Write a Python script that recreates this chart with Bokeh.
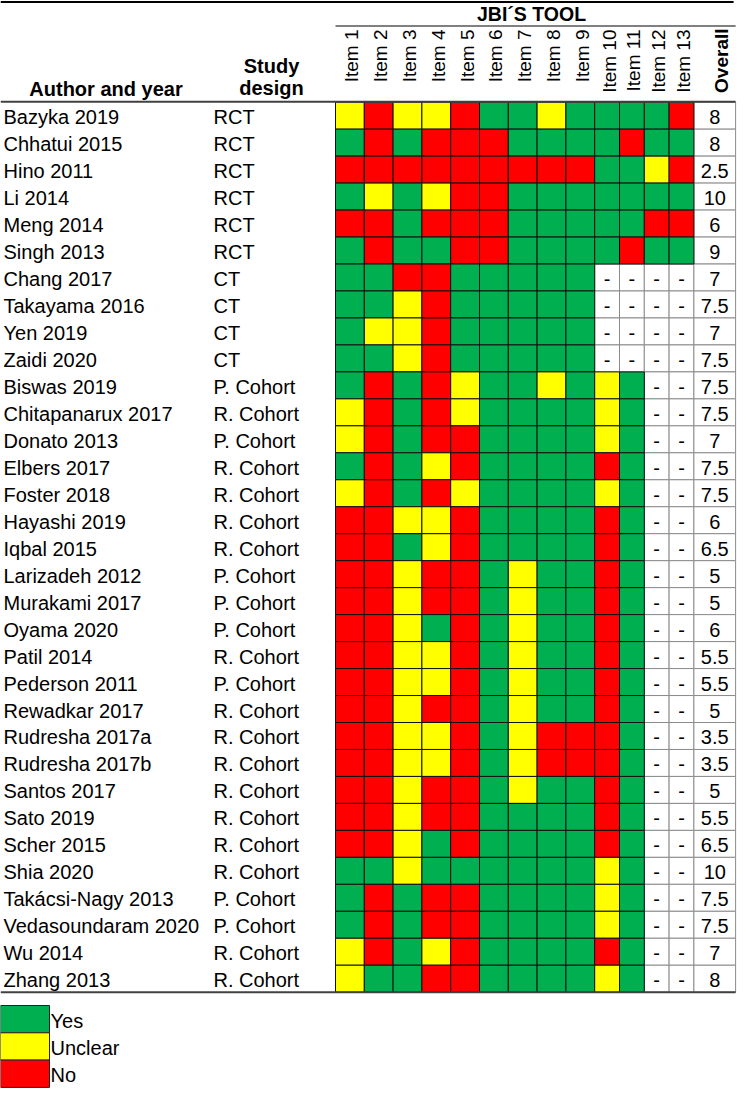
import math
from bokeh.plotting import figure
from bokeh.models import Range1d, ColumnDataSource
from bokeh.core.properties import value
from bokeh.embed import file_html
from bokeh.resources import INLINE

# ---------------- data ----------------
authors = ["Bazyka 2019", "Chhatui 2015", "Hino 2011", "Li 2014", "Meng 2014", "Singh 2013",
           "Chang 2017", "Takayama 2016", "Yen 2019", "Zaidi 2020", "Biswas 2019",
           "Chitapanarux 2017", "Donato 2013", "Elbers 2017", "Foster 2018", "Hayashi 2019",
           "Iqbal 2015", "Larizadeh 2012", "Murakami 2017", "Oyama 2020", "Patil 2014",
           "Pederson 2011", "Rewadkar 2017", "Rudresha 2017a", "Rudresha 2017b", "Santos 2017",
           "Sato 2019", "Scher 2015", "Shia 2020", "Takácsi-Nagy 2013", "Vedasoundaram 2020",
           "Wu 2014", "Zhang 2013"]
designs = ["RCT", "RCT", "RCT", "RCT", "RCT", "RCT",
           "CT", "CT", "CT", "CT",
           "P. Cohort", "R. Cohort", "P. Cohort", "R. Cohort", "R. Cohort", "R. Cohort",
           "R. Cohort", "P. Cohort", "P. Cohort", "P. Cohort", "R. Cohort", "P. Cohort",
           "R. Cohort", "R. Cohort", "R. Cohort", "R. Cohort", "R. Cohort", "R. Cohort",
           "R. Cohort", "P. Cohort", "P. Cohort", "R. Cohort", "R. Cohort"]
# G = Yes, Y = Unclear, R = No, - = not applicable ; one string per study, items 1..13
ratings = ["YRYYRGGYGGGGR",
           "GRGRRRGGGGRGG",
           "RRRRRRRRRGGYR",
           "GYGYRRGGGGGGG",
           "RRGRRRGGGGGRR",
           "GRGGRRGGGGRGG",
           "GGRRGGGGG----",
           "GGYRGGGGG----",
           "GYYRGGGGG----",
           "GGYRGGGGG----",
           "GRGRYGGYGYG--",
           "YRGRYGGGGYG--",
           "YRGRRGGGGYG--",
           "GRGYRGGGGRG--",
           "YRGRYGGGGYG--",
           "RRYYRGGGGRG--",
           "RRGYRGGGGRG--",
           "RRYRRGYGGRG--",
           "RRYRRGYGGRG--",
           "RRYGRGYGGRG--",
           "RRYYRGYGGRG--",
           "RRYYRGYGGRG--",
           "RRYRRGYGGRG--",
           "RRYYRGYRRRG--",
           "RRYYRGYRRRG--",
           "RRYRRGYGGRG--",
           "RRYRRGGGGRG--",
           "RRYGRGGGGRG--",
           "GGYGGGGGGYG--",
           "GRGRRGGGGYG--",
           "GRGRRGGGGYG--",
           "YRGYRGGGGRG--",
           "YGGRRGGGGYG--"]
overall = [8, 8, 2.5, 10, 6, 9, 7, 7.5, 7, 7.5, 7.5, 7.5, 7, 7.5, 7.5, 6, 6.5, 5, 5, 6,
           5.5, 5.5, 5, 3.5, 3.5, 5, 5.5, 6.5, 10, 7.5, 7.5, 7, 8]
items = ["Item 1", "Item 2", "Item 3", "Item 4", "Item 5", "Item 6", "Item 7", "Item 8",
         "Item 9", "Item 10", "Item 11", "Item 12", "Item 13"]
legend_labels = ["Yes", "Unclear", "No"]
legend_codes = ["G", "Y", "R"]

# ---------------- styles / layout ----------------
COLORS = {"G": "#00B050", "Y": "#FFFF00", "R": "#FF0000"}
FONT = value("Liberation Sans")
W, H = 742, 1092
X0 = 335.0
col_w = [28.8] * 9 + [24.8] * 4 + [41.7]
edges = [X0]
for w in col_w:
    edges.append(edges[-1] + w)
ROW_TOP = 101.7
ROW_H = (991.7 - ROW_TOP) / len(authors)
GRID_BOTTOM = ROW_TOP + ROW_H * len(authors)
RIGHT = edges[-1]

p = figure(width=W, height=H, output_backend="svg", toolbar_location=None,
           x_range=Range1d(0, W), y_range=Range1d(H, 0), min_border=0,
           tools="", background_fill_color="white", border_fill_color="white")
p.axis.visible = False
p.grid.visible = False
p.outline_line_color = None

# ---------------- cells ----------------
col_cells = dict(left=[], right=[], top=[], bottom=[], color=[])
na_cells = dict(left=[], right=[], top=[], bottom=[], x=[], y=[], t=[])
for i, row in enumerate(ratings):
    top = ROW_TOP + i * ROW_H
    bot = top + ROW_H
    for j, code in enumerate(row):
        if code == "-":
            na_cells["left"].append(edges[j]); na_cells["right"].append(edges[j + 1])
            na_cells["top"].append(top); na_cells["bottom"].append(bot)
            na_cells["x"].append((edges[j] + edges[j + 1]) / 2); na_cells["y"].append((top + bot) / 2 + 1.5)
            na_cells["t"].append("-")
        else:
            col_cells["left"].append(edges[j]); col_cells["right"].append(edges[j + 1])
            col_cells["top"].append(top); col_cells["bottom"].append(bot)
            col_cells["color"].append(COLORS[code])

ov = dict(left=[edges[13]] * len(overall), right=[edges[14]] * len(overall),
          top=[ROW_TOP + i * ROW_H for i in range(len(overall))],
          bottom=[ROW_TOP + (i + 1) * ROW_H for i in range(len(overall))],
          x=[(edges[13] + edges[14]) / 2] * len(overall),
          y=[ROW_TOP + (i + 0.5) * ROW_H + 1.5 for i in range(len(overall))],
          t=[f"{v:g}" for v in overall])

p.quad(left="left", right="right", top="top", bottom="bottom", source=ColumnDataSource(na_cells),
       fill_color="white", line_color="#8c8c8c", line_width=1)
p.quad(left="left", right="right", top="top", bottom="bottom", source=ColumnDataSource(ov),
       fill_color="white", line_color="#8c8c8c", line_width=1)
p.quad(left="left", right="right", top="top", bottom="bottom", source=ColumnDataSource(col_cells),
       fill_color="color", line_color="#111111", line_width=1)

p.text(x="x", y="y", text="t", source=ColumnDataSource(na_cells), text_font=FONT,
       text_font_size=value("20px"), text_align="center", text_baseline="middle", text_color="black")
p.text(x="x", y="y", text="t", source=ColumnDataSource(ov), text_font=FONT,
       text_font_size=value("20px"), text_align="center", text_baseline="middle", text_color="black")

# ---------------- row labels ----------------
row_y = [ROW_TOP + (i + 0.5) * ROW_H + 1.5 for i in range(len(authors))]
p.text(x=[3] * len(authors), y=row_y, text=authors, text_font=FONT, text_font_size=value("20px"),
       text_align="left", text_baseline="middle", text_color="black")
p.text(x=[213] * len(designs), y=row_y, text=designs, text_font=FONT, text_font_size=value("20px"),
       text_align="left", text_baseline="middle", text_color="black")

# ---------------- header ----------------
item_x = [(edges[j] + edges[j + 1]) / 2 + 2 for j in range(len(items))]
p.text(x=item_x, y=[29] * len(items), text=items, angle=math.pi / 2, text_font=FONT,
       text_font_size=value("19px"), text_align="right", text_baseline="middle", text_color="black")
p.text(x=[(edges[13] + edges[14]) / 2 + 7], y=[28], text=["Overall"], angle=math.pi / 2,
       text_font=FONT, text_font_size=value("19px"), text_font_style="bold",
       text_align="right", text_baseline="middle", text_color="black")
p.text(x=[(X0 + RIGHT) / 2 - 4], y=[13.5], text=["JBI´S TOOL"], text_font=FONT,
       text_font_size=value("19.5px"), text_font_style="bold", text_align="center",
       text_baseline="middle", text_color="black")
p.text(x=[105.5], y=[88.5], text=["Author and year"], text_font=FONT, text_font_size=value("20px"),
       text_font_style="bold", text_align="center", text_baseline="middle", text_color="black")
p.text(x=[271, 271], y=[65, 87.5], text=["Study", "design"], text_font=FONT,
       text_font_size=value("20px"), text_font_style="bold", text_align="center",
       text_baseline="middle", text_color="black")

# rules
p.segment(x0=[0], y0=[1.5], x1=[RIGHT - 2], y1=[1.5], line_color="#000000", line_width=2)
p.segment(x0=[X0], y0=[25.5], x1=[RIGHT], y1=[25.5], line_color="#808080", line_width=2)
p.segment(x0=[0], y0=[ROW_TOP - 0.5], x1=[RIGHT], y1=[ROW_TOP - 0.5], line_color="#404040", line_width=2)
p.segment(x0=[0], y0=[GRID_BOTTOM], x1=[RIGHT], y1=[GRID_BOTTOM], line_color="#404040", line_width=2)

# ---------------- legend ----------------
LEG_TOP = 1005.0
LEG_H = 27.3
leg = dict(left=[0] * 3, right=[49] * 3,
           top=[LEG_TOP + k * LEG_H for k in range(3)],
           bottom=[LEG_TOP + (k + 1) * LEG_H for k in range(3)],
           color=[COLORS[c] for c in legend_codes],
           x=[50] * 3, y=[LEG_TOP + (k + 0.5) * LEG_H + 1.5 for k in range(3)],
           t=legend_labels)
lsrc = ColumnDataSource(leg)
p.quad(left="left", right="right", top="top", bottom="bottom", source=lsrc,
       fill_color="color", line_color="#222222", line_width=1)
p.text(x="x", y="y", text="t", source=lsrc, text_font=FONT, text_font_size=value("20px"),
       text_align="left", text_baseline="middle", text_color="black")

open("out.html", "w").write(file_html(p, INLINE))
